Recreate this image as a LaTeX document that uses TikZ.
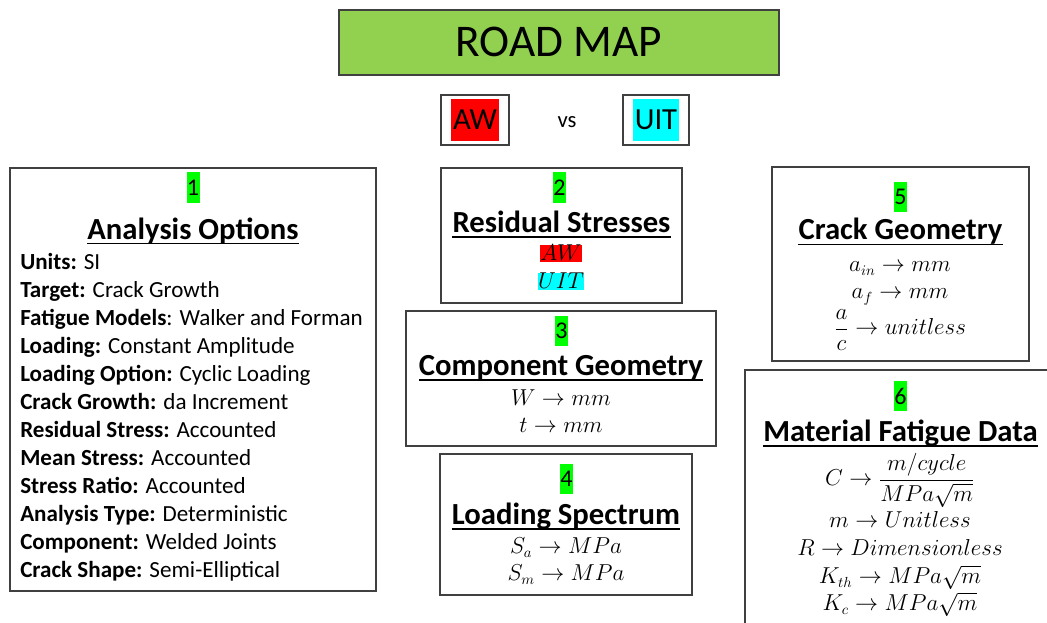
\documentclass[tikz,border=0pt]{standalone}
\usepackage{fontspec}
\setmainfont{Carlito}
\usepackage{amsmath}
\definecolor{titlegreen}{HTML}{92D050}
\definecolor{numgreen}{HTML}{00FF00}
\definecolor{hlred}{HTML}{FF0000}
\definecolor{hlcyan}{HTML}{00FFFF}
\definecolor{boxline}{HTML}{404040}
\newcommand{\bodyfnt}{\fontsize{17.3}{20}\selectfont}
\newcommand{\headfnt}{\fontsize{23}{27}\selectfont\bfseries}
\newcommand{\numfnt}{\fontsize{18}{21}\selectfont}
\newcommand{\mathfnt}{\fontsize{16}{19}\selectfont}
\tikzset{
  boxframe/.style={draw=boxline, line width=1.1pt},
  numtag/.style={fill=numgreen, inner sep=0pt, minimum width=9.75pt, minimum height=23pt, font=\numfnt},
  headtxt/.style={inner sep=0pt, anchor=base, font=\headfnt},
  bodytxt/.style={inner sep=0pt, anchor=base west, font=\bodyfnt},
  mathtxt/.style={inner sep=0pt, anchor=base, font=\mathfnt},
  uline/.style={line width=1.2pt},
}
\begin{document}
\begin{tikzpicture}[x=0.75pt,y=-0.75pt]
\useasboundingbox (0,0) rectangle (1047,623);
\clip (0,0) rectangle (1047,623);
\fill[white] (0,0) rectangle (1047,623);

% title
\draw[boxframe, fill=titlegreen, line width=1pt] (339,10) rectangle (779,75);
\node[inner sep=0pt, anchor=base, font=\fontsize{34}{40}\selectfont] (title) at (559,57) {ROAD MAP};

% AW vs UIT
\draw[boxframe, line width=1pt] (441,95) rectangle (509,145);
\node[fill=hlred, inner sep=0pt, minimum width=36pt, minimum height=31pt, font=\fontsize{23}{27}\selectfont] (aw) at (475,120) {AW};
\node[inner sep=0pt, anchor=base, font=\fontsize{17}{20}\selectfont] (vs) at (567,128) {vs};
\draw[boxframe, line width=1pt] (623,95) rectangle (689,145);
\node[fill=hlcyan, inner sep=0pt, minimum width=35pt, minimum height=31pt, font=\fontsize{23}{27}\selectfont] (uit) at (656,120) {UIT};

% Box 1
\draw[boxframe] (10,168) rectangle (376,591);
\node[numtag] (n1) at (193,187.5) {1};
\node[headtxt] (h1) at (193,240) {Analysis Options};
\draw[uline] ([yshift=-2.5pt]h1.base west) -- ([yshift=-2.5pt]h1.base east);
\node[bodytxt] (l1) at (20,270) {\textbf{Units:} SI};
\node[bodytxt] (l2) at (20,298) {\textbf{Target:} Crack Growth};
\node[bodytxt] (l3) at (20,326) {\textbf{Fatigue Models}: Walker and Forman};
\node[bodytxt] (l4) at (20,354) {\textbf{Loading:} Constant Amplitude};
\node[bodytxt] (l5) at (20,382) {\textbf{Loading Option:} Cyclic Loading};
\node[bodytxt] (l6) at (20,410) {\textbf{Crack Growth:} da Increment};
\node[bodytxt] (l7) at (20,438) {\textbf{Residual Stress:} Accounted};
\node[bodytxt] (l8) at (20,466) {\textbf{Mean Stress:} Accounted};
\node[bodytxt] (l9) at (20,494) {\textbf{Stress Ratio:} Accounted};
\node[bodytxt] (l10) at (20,522) {\textbf{Analysis Type:} Deterministic};
\node[bodytxt] (l11) at (20,550) {\textbf{Component:} Welded Joints};
\node[bodytxt] (l12) at (20,578) {\textbf{Crack Shape:} Semi-Elliptical};

% Box 2
\draw[boxframe] (441,168) rectangle (682,303);
\node[numtag] (n2) at (559.5,187.5) {2};
\node[headtxt] (h2) at (561.5,233) {Residual Stresses};
\draw[uline] ([yshift=-3pt]h2.base west) -- ([yshift=-3pt]h2.base east);
\node[fill=hlred, inner xsep=0pt, inner ysep=0.5pt, anchor=base, font=\mathfnt] (raw) at (561,261) {$AW$};
\node[fill=hlcyan, inner xsep=0pt, inner ysep=0.5pt, anchor=base, font=\mathfnt] (ruit) at (561,289) {$UIT$};

% Box 3
\draw[boxframe] (406,311) rectangle (716,446);
\node[numtag] (n3) at (561.5,331) {3};
\node[headtxt] (h3) at (561,376) {Component Geometry};
\draw[uline] ([yshift=-3pt]h3.base west) -- ([yshift=-3pt]h3.base east);
\node[mathtxt] (w) at (561,406) {$W\rightarrow mm$};
\node[mathtxt] (t) at (561,433) {$t\rightarrow mm$};

% Box 4
\draw[boxframe] (440,454) rectangle (692,595);
\node[numtag] (n4) at (566.5,479) {4};
\node[headtxt] (h4) at (566,525) {Loading Spectrum};
\draw[uline] ([yshift=-3pt]h4.base west) -- ([yshift=-3pt]h4.base east);
\node[mathtxt] (sa) at (566,554) {$S_a\rightarrow MPa$};
\node[mathtxt] (sm) at (566,581) {$S_m\rightarrow MPa$};

% Box 5
\draw[boxframe] (772,167) rectangle (1029,361);
\node[numtag] (n5) at (900.5,197) {5};
\node[headtxt] (h5) at (900.5,240) {Crack Geometry};
\draw[uline] ([yshift=-3.5pt]h5.base west) -- ([yshift=-3.5pt]h5.base east);
\node[mathtxt] (ain) at (900,272) {$a_{in}\rightarrow mm$};
\node[mathtxt] (af) at (900,299) {$a_f\rightarrow mm$};
\node[mathtxt] (ac) at (900,335) {$\dfrac{a}{c}\rightarrow unitless$};

% Box 6
\draw[boxframe] (745,370) rectangle (1070,650);
\node[numtag] (n6) at (900.5,396) {6};
\node[headtxt] (h6) at (900.5,442) {Material Fatigue Data};
\draw[uline] ([yshift=-3pt]h6.base west) -- ([yshift=-3pt]h6.base east);
\node[mathtxt] (cc) at (900,486) {$C\rightarrow \dfrac{m/cycle}{MPa\sqrt{m}}$};
\node[mathtxt] (mm) at (900,528) {$m\rightarrow Unitless$};
\node[mathtxt] (rr) at (900,556) {$R\rightarrow Dimensionless$};
\node[mathtxt] (kth) at (900,584) {$K_{th}\rightarrow MPa\sqrt{m}$};
\node[mathtxt] (kc) at (900,611) {$K_c\rightarrow MPa\sqrt{m}$};
\end{tikzpicture}
\end{document}
